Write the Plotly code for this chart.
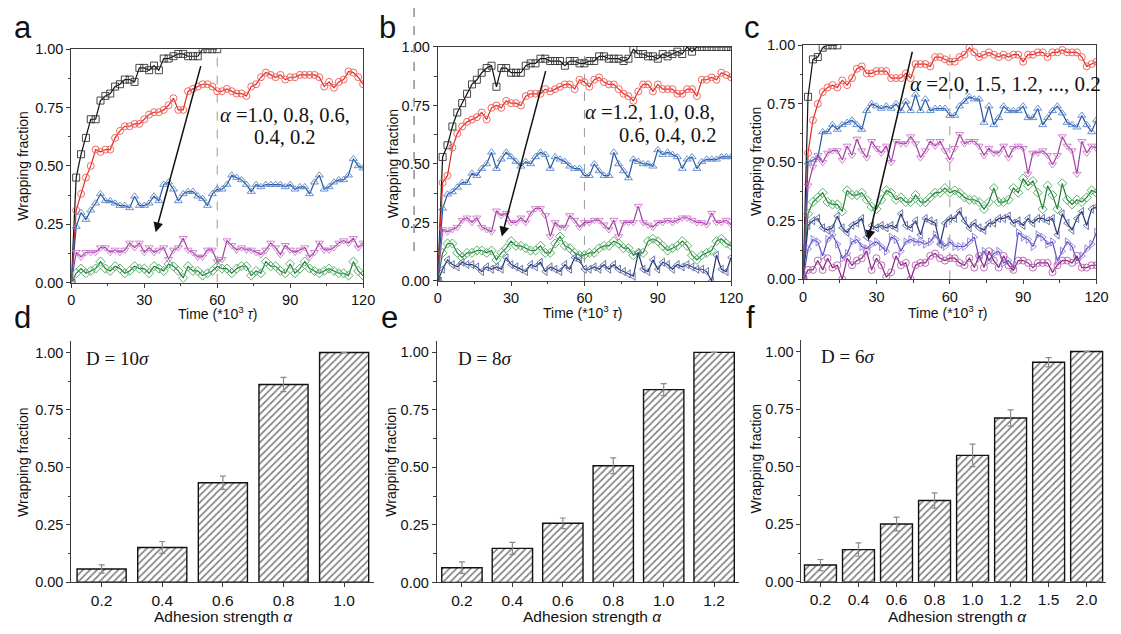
import plotly.graph_objects as go

# ---------------- time series (time in units of 10^3 tau) ----------------
time = list(range(0, 121, 2))

# panel a: D = 10 sigma, alpha = 1.0, 0.8, 0.6, 0.4, 0.2
a_alpha10 = [0, .45, .55, .62, .70, .70, .78, .80, .81, .84,
             .85, .87, .87, .86, .92, .92, .91, .93, .91, .96,
             .96, .97, .98, .98, .97, .97, .97, 1.0, 1.0, 1.0,
             1.0]
a_alpha08 = [0, .31, .38, .45, .50, .57, .56, .57, .57, .62,
             .65, .67, .67, .68, .68, .70, .72, .73, .73, .74,
             .76, .79, .74, .74, .82, .83, .84, .85, .85, .84,
             .82, .82, .83, .82, .81, .81, .80, .84, .85, .88,
             .90, .89, .88, .89, .87, .88, .88, .89, .89, .89,
             .89, .88, .84, .86, .835, .86, .87, .905, .90, .88,
             .85]
a_alpha06 = [0, .24, .30, .27, .31, .34, .38, .35, .35, .34,
             .33, .33, .32, .37, .33, .33, .34, .37, .35, .42,
             .43, .40, .35, .38, .39, .39, .37, .36, .33, .38,
             .40, .40, .42, .46, .45, .44, .42, .39, .42, .41,
             .42, .42, .42, .42, .41, .42, .40, .41, .41, .38,
             .43, .46, .40, .41, .43, .44, .44, .46, .53, .50,
             .49]
a_alpha04 = [0, .13, .11, .13, .13, .13, .15, .15, .13, .14,
             .13, .14, .17, .15, .17, .13, .15, .13, .14, .15,
             .10, .14, .15, .19, .14, .13, .11, .11, .14, .14,
             .09, .10, .18, .16, .14, .15, .14, .14, .13, .12,
             .14, .17, .15, .12, .16, .14, .13, .14, .15, .11,
             .13, .17, .14, .14, .15, .17, .18, .17, .19, .15,
             .17]
a_alpha02 = [0, .04, .06, .04, .05, .06, .09, .06, .05, .07,
             .06, .04, .05, .07, .06, .06, .04, .07, .06, .05,
             .08, .07, .05, .02, .07, .05, .05, .03, .04, .05,
             .07, .06, .06, .04, .06, .07, .07, .03, .05, .04,
             .09, .07, .07, .05, .04, .08, .04, .06, .09, .06,
             .05, .04, .05, .06, .05, .04, .04, .03, .09, .05,
             .03]

# panel b: D = 8 sigma, alpha = 1.2, 1.0, 0.8, 0.6, 0.4, 0.2
b_alpha12 = [0, .53, .58, .66, .72, .76, .80, .84, .86, .89,
             .91, .92, .83, .91, .91, .89, .89, .89, .92, .93,
             .93, .95, .95, .94, .94, .94, .92, .94, .94, .93,
             .93, .94, .94, .96, .96, .95, .95, .95, .94, .95,
             .99, .97, .97, .96, .96, .95, .97, .96, .97, .98,
             .97, 1.0, .98, 1.0, 1.0, 1.0, 1.0, 1.0, 1.0, 1.0,
             1.0]
b_alpha10 = [0, .42, .45, .57, .63, .66, .68, .69, .70, .72,
             .69, .74, .75, .74, .77, .76, .76, .75, .79, .80,
             .80, .80, .82, .81, .82, .83, .84, .84, .82, .86,
             .85, .83, .86, .87, .85, .84, .84, .82, .80, .79,
             .77, .81, .84, .84, .81, .84, .82, .82, .82, .80,
             .80, .82, .82, .79, .86, .86, .87, .86, .89, .88,
             .87]
b_alpha08 = [0, .31, .37, .38, .40, .42, .42, .46, .45, .48,
             .50, .55, .48, .52, .55, .53, .51, .49, .51, .50,
             .53, .55, .54, .48, .53, .52, .51, .49, .48, .48,
             .45, .45, .50, .47, .45, .45, .55, .50, .47, .44,
             .52, .51, .50, .50, .49, .56, .54, .55, .54, .53,
             .48, .52, .53, .48, .51, .52, .52, .52, .53, .53,
             .53]
b_alpha06 = [0, .22, .21, .22, .23, .26, .27, .25, .27, .23,
             .22, .21, .30, .28, .29, .25, .25, .27, .25, .29,
             .31, .31, .28, .19, .25, .23, .23, .28, .26, .23,
             .25, .25, .26, .26, .24, .22, .26, .19, .25, .25,
             .25, .32, .25, .24, .23, .25, .25, .26, .25, .26,
             .27, .27, .26, .25, .25, .24, .29, .25, .25, .26,
             .24]
b_alpha04 = [0, .12, .16, .16, .12, .10, .12, .12, .13, .13,
             .12, .13, .09, .12, .14, .17, .15, .15, .14, .13,
             .13, .15, .12, .12, .16, .19, .15, .14, .12, .11,
             .11, .12, .12, .14, .15, .15, .17, .16, .14, .14,
             .11, .12, .12, .17, .18, .17, .15, .13, .14, .15,
             .17, .15, .11, .09, .11, .12, .13, .17, .18, .16,
             .15]
b_alpha02 = [0, .05, .09, .07, .06, .08, .07, .07, .06, .04,
             .06, .05, .06, .05, .10, .07, .06, .05, .04, .07,
             .06, .08, .04, .06, .05, .04, .07, .05, .10, .09,
             .05, .05, .06, .05, .07, .05, .07, .05, .04, .03,
             .02, .12, .05, .04, .09, .05, .08, .07, .05, .07,
             .06, .07, .06, .05, .05, .04, .00, .11, .05, .04,
             .10]

# panel c: D = 6 sigma, alpha = 2.0, 1.5, 1.2, 1.0, 0.8, 0.6, 0.4, 0.2
c_alpha20 = [0, .78, .94, .95, .99, 1.0, 1.0, 1.0]
c_alpha15 = [0, .54, .68, .75, .80, .82, .83, .82, .85, .83,
             .86, .90, .91, .88, .88, .89, .89, .89, .86, .86,
             .86, .88, .86, .92, .92, .92, .91, .95, .95, .94,
             .93, .93, .95, .96, .99, .97, .95, .96, .97, .96,
             .95, .96, .95, .96, .96, .93, .96, .96, .97, .97,
             .95, .97, .97, .98, .97, .97, .97, .95, .91, .92,
             .93]
c_alpha12 = [0, .50, .51, .52, .63, .63, .66, .64, .66, .67,
             .68, .66, .64, .72, .75, .74, .73, .74, .73, .75,
             .72, .76, .72, .79, .72, .77, .72, .73, .73, .73,
             .70, .70, .74, .76, .78, .77, .77, .67, .74, .66,
             .69, .74, .72, .72, .72, .74, .69, .69, .73, .66,
             .69, .72, .74, .71, .67, .66, .65, .70, .66, .63,
             .68]
c_alpha10 = [0, .40, .48, .53, .50, .54, .55, .55, .51, .57,
             .53, .60, .55, .52, .59, .56, .54, .57, .50, .59,
             .58, .58, .61, .58, .52, .55, .59, .57, .59, .55,
             .51, .56, .62, .58, .59, .59, .57, .53, .56, .54,
             .54, .57, .52, .56, .57, .56, .45, .54, .54, .55,
             .53, .49, .53, .61, .57, .55, .45, .59, .54, .57,
             .56]
c_alpha08 = [0, .28, .33, .35, .37, .33, .32, .32, .29, .38,
             .36, .36, .37, .34, .31, .30, .34, .38, .37, .34,
             .35, .33, .33, .36, .33, .33, .35, .37, .37, .39,
             .37, .38, .37, .35, .34, .34, .33, .30, .33, .39,
             .33, .33, .34, .39, .37, .43, .40, .42, .37, .30,
             .40, .36, .30, .41, .34, .32, .34, .33, .35, .38,
             .37]
c_alpha06 = [0, .23, .25, .26, .22, .21, .22, .27, .22, .20,
             .23, .24, .26, .18, .23, .22, .23, .22, .23, .22,
             .28, .23, .22, .25, .19, .26, .25, .24, .15, .24,
             .26, .26, .29, .25, .22, .24, .22, .21, .24, .24,
             .26, .26, .27, .24, .25, .23, .26, .24, .26, .26,
             .25, .26, .19, .28, .24, .21, .26, .29, .23, .30,
             .31]
c_alpha04 = [0, .13, .17, .16, .10, .17, .19, .15, .09, .11,
             .16, .17, .14, .13, .15, .16, .14, .12, .18, .17,
             .12, .16, .17, .16, .16, .15, .16, .19, .16, .14,
             .16, .14, .14, .14, .16, .18, .09, .12, .08, .11,
             .12, .07, .08, .05, .20, .18, .17, .14, .19, .18,
             .15, .16, .08, .12, .16, .14, .08, .10, .13, .15,
             .20]
c_alpha02 = [0, .04, .04, .08, .04, .09, .05, .06, .00, .09,
             .06, .08, .09, .12, .04, .09, .06, .01, .03, .10,
             .06, .07, .00, .06, .07, .07, .10, .11, .09, .08,
             .09, .09, .07, .06, .09, .05, .10, .05, .12, .08,
             .05, .10, .06, .04, .08, .08, .07, .05, .07, .07,
             .07, .03, .06, .08, .08, .07, .10, .05, .05, .06,
             .06]

# ---------------- final wrapping fraction vs adhesion strength ----------------
d_alpha = ["0.2", "0.4", "0.6", "0.8", "1.0"]
d_frac = [0.057, 0.151, 0.433, 0.861, 1.0]
d_err = [0.018, 0.026, 0.029, 0.031, 0.0]

e_alpha = ["0.2", "0.4", "0.6", "0.8", "1.0", "1.2"]
e_frac = [0.064, 0.148, 0.257, 0.507, 0.838, 1.0]
e_err = [0.025, 0.026, 0.023, 0.034, 0.026, 0.0]

f_alpha = ["0.2", "0.4", "0.6", "0.8", "1.0", "1.2", "1.5", "2.0"]
f_frac = [0.073, 0.140, 0.251, 0.353, 0.549, 0.711, 0.953, 1.0]
f_err = [0.024, 0.029, 0.030, 0.033, 0.049, 0.035, 0.020, 0.0]

y_ticks = [0, 0.25, 0.5, 0.75, 1.0]
y_ticktext = ["0.00", "0.25", "0.50", "0.75", "1.00"]
t_ticks = [0, 30, 60, 90, 120]

# ---------------- styling ----------------
W, H = 1121, 634
SANS = "Liberation Sans, Arial, sans-serif"
SERIF = "Liberation Serif, Times New Roman, serif"
AX = "#3a3a3a"

# (line colour, marker outline colour, symbol)
series_style = [
    ("#111111", "#333333", "square-open"),
    ("#e02a22", "#ee5a52", "circle-open"),
    ("#24549e", "#5a88cc", "triangle-up-open"),
    ("#a03ea0", "#cc78cc", "triangle-down-open"),
    ("#1f7f34", "#4aa860", "diamond-open"),
    ("#223472", "#5a68a0", "triangle-left-open"),
    ("#5a4cc0", "#8c80dc", "triangle-right-open"),
    ("#86207e", "#b45cae", "circle-open"),
]


def px_x(p):
    return p / W


def px_y(p):
    return 1 - p / H


fig = go.Figure()

panels_top = [
    ("x", "y", [a_alpha10, a_alpha08, a_alpha06, a_alpha04, a_alpha02]),
    ("x2", "y2", [b_alpha12, b_alpha10, b_alpha08, b_alpha06, b_alpha04, b_alpha02]),
    ("x3", "y3", [c_alpha20, c_alpha15, c_alpha12, c_alpha10, c_alpha08,
                  c_alpha06, c_alpha04, c_alpha02]),
]

for xa, ya, series in panels_top:
    for i, vals in enumerate(series):
        lcol, mcol, sym = series_style[i]
        fig.add_trace(go.Scatter(
            x=time[:len(vals)], y=vals, mode="lines+markers",
            line=dict(color=lcol, width=1.2),
            marker=dict(symbol=sym, size=7, color=mcol, line=dict(width=0.9, color=mcol)),
            xaxis=xa, yaxis=ya, showlegend=False, cliponaxis=True,
        ))

bar_panels = [
    ("x4", "y4", d_alpha, d_frac, d_err, 0.81),
    ("x5", "y5", e_alpha, e_frac, e_err, 0.80),
    ("x6", "y6", f_alpha, f_frac, f_err, 0.84),
]
for xa, ya, cats, vals, errs, bw in bar_panels:
    fig.add_trace(go.Bar(
        x=cats, y=vals, width=bw,
        error_y=dict(type="data", array=errs, color="#8a8a8a", thickness=1.2, width=3),
        marker=dict(color="white", line=dict(color="#111", width=1.4),
                    pattern=dict(shape="/", fgcolor="#000", bgcolor="white",
                                 size=5, solidity=0.33)),
        xaxis=xa, yaxis=ya, showlegend=False,
    ))

tickfont = dict(family=SANS, size=14.5, color="#111")


def top_x(domain, anchor):
    return dict(domain=domain, anchor=anchor, range=[0, 120], tickvals=t_ticks,
                showline=True, mirror=True, linecolor=AX, linewidth=1,
                ticks="outside", ticklen=4, tickcolor=AX, showgrid=False, zeroline=False,
                minor=dict(ticks="outside", ticklen=2.5, dtick=15, tick0=0, tickcolor=AX),
                tickfont=tickfont)


def top_y(domain, anchor):
    return dict(domain=domain, anchor=anchor, range=[0, 1], tickvals=y_ticks,
                ticktext=y_ticktext,
                showline=True, mirror=True, linecolor=AX, linewidth=1,
                ticks="outside", ticklen=4, tickcolor=AX, showgrid=False, zeroline=False,
                minor=dict(ticks="outside", ticklen=2.5, dtick=0.125, tick0=0, tickcolor=AX),
                tickfont=tickfont)


def bot_x(domain, anchor, n):
    return dict(domain=domain, anchor=anchor, type="category", range=[-0.5, n - 0.5],
                showline=True, linecolor=AX, linewidth=1,
                ticks="outside", ticklen=4, tickcolor=AX, showgrid=False, zeroline=False,
                tickfont=dict(family=SANS, size=15.5, color="#111"))


def bot_y(domain, anchor):
    return dict(domain=domain, anchor=anchor, range=[0, 1.05], tickvals=y_ticks,
                ticktext=y_ticktext,
                showline=True, linecolor=AX, linewidth=1,
                ticks="outside", ticklen=4, tickcolor=AX, showgrid=False, zeroline=False,
                minor=dict(ticks="outside", ticklen=2.5, dtick=0.125, tick0=0, tickcolor=AX),
                tickfont=tickfont)


layout = dict(
    width=W, height=634, autosize=False,
    margin=dict(l=0, r=0, t=0, b=0),
    paper_bgcolor="white", plot_bgcolor="white",
    xaxis=top_x([px_x(68.3), px_x(364.3)], "y"),
    yaxis=top_y([px_y(281.7), px_y(42.3)], "x"),
    xaxis2=top_x([px_x(440), px_x(737.7)], "y2"),
    yaxis2=top_y([px_y(280), px_y(40)], "x2"),
    xaxis3=top_x([px_x(810.7), px_x(1108.3)], "y3"),
    yaxis3=top_y([px_y(278.3), px_y(38.3)], "x3"),
    xaxis4=bot_x([px_x(68.3), px_x(375.8)], "y4", len(d_alpha)),
    yaxis4=bot_y([px_y(589), px_y(341.7)], "x4"),
    xaxis5=bot_x([px_x(439), px_x(746)], "y5", len(e_alpha)),
    yaxis5=bot_y([px_y(589.3), px_y(341.5)], "x5"),
    xaxis6=bot_x([px_x(809), px_x(1117.6)], "y6", len(f_alpha)),
    yaxis6=bot_y([px_y(588.7), px_y(340.5)], "x6"),
)
fig.update_layout(**layout)

# dashed guide at t = 60 in each time panel
shapes = []
for xr, yr in [("x", "y"), ("x2", "y2"), ("x3", "y3")]:
    shapes.append(dict(type="line", xref=xr, yref=yr, x0=60, x1=60, y0=0, y1=1,
                       line=dict(color="#9a9a9a", width=1, dash="dash"), layer="below"))
shapes.append(dict(type="line", xref="paper", yref="paper", x0=px_x(416), x1=px_x(416),
                   y0=px_y(0), y1=px_y(250), line=dict(color="#555", width=1, dash="dash")))
fig.update_layout(shapes=shapes)

ann = []


def text(x, y, s, size, family=SANS, angle=0, xanchor="center", color="#111"):
    ann.append(dict(x=px_x(x), y=px_y(y), xref="paper", yref="paper", text=s,
                    showarrow=False, textangle=angle, xanchor=xanchor, yanchor="middle",
                    borderpad=0, font=dict(family=family, size=size, color=color)))


# panel letters
for lx, ly, s in [(19, 20, "a"), (389, 20, "b"), (759, 20, "c"),
                  (19, 318, "d"), (391, 318, "e"), (757, 318, "f")]:
    text(lx, ly, s, 31)

# axis titles
for yx, yy in [(19, 162), (395, 160), (763, 158), (20, 466), (393, 466), (763, 463)]:
    text(yx, yy, "Wrapping fraction", 14, angle=-90)
for tx, ty in [(217, 313), (587, 312), (957, 312)]:
    text(tx, ty, "Time (*10<sup>3</sup> <i>τ</i>)", 14)
for tx, ty in [(223, 624), (597, 624), (967, 624)]:
    text(tx, ty, "Adhesion strength <i>α</i>", 15.5)

# alpha lists
text(218, 110, "<i>α</i> =1.0, 0.8, 0.6,", 20.5, family=SERIF, xanchor="left")
text(253, 132, "0.4, 0.2", 20.5, family=SERIF, xanchor="left")
text(588, 107, "<i>α</i> =1.2, 1.0, 0.8,", 20.5, family=SERIF, xanchor="left")
text(623, 130, "0.6, 0.4, 0.2", 20.5, family=SERIF, xanchor="left")
text(918, 78, "<i>α</i> =2.0, 1.5, 1.2, ..., 0.2", 21, family=SERIF, xanchor="left")

# particle diameters
text(82, 360, "D = 10<i>σ</i>", 19, family=SERIF, xanchor="left")
text(460, 360, "D = 8<i>σ</i>", 19, family=SERIF, xanchor="left")
text(828, 358, "D = 6<i>σ</i>", 19, family=SERIF, xanchor="left")

# trend arrows (decreasing alpha)
for xr, yr, x0, y0, x1, y1 in [("x", "y", 53.4, 0.934, 34.7, 0.216),
                               ("x2", "y2", 44.3, 0.903, 26.2, 0.19),
                               ("x3", "y3", 44.8, 0.979, 26.6, 0.167)]:
    ann.append(dict(x=x1, y=y1, ax=x0, ay=y0, xref=xr, yref=yr, axref=xr, ayref=yr,
                    text="", showarrow=True, arrowhead=2, arrowsize=1.3,
                    arrowwidth=1.5, arrowcolor="#111"))

fig.update_layout(annotations=ann)

fig.write_html("out.html")
